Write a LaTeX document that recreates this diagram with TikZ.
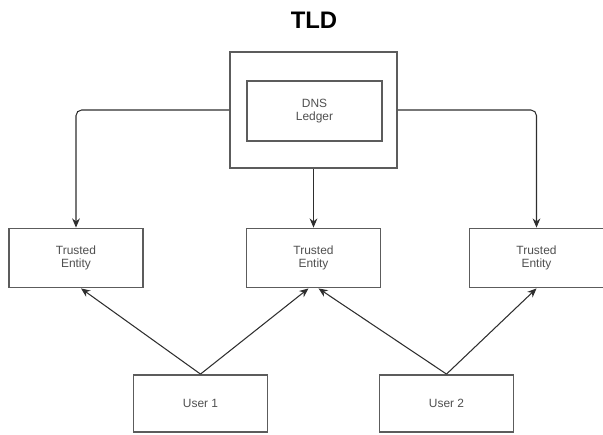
\documentclass[tikz,border=0pt]{standalone}
\usepackage{xcolor}
\usepackage{fontspec}
\setmainfont{Liberation Sans}
\usetikzlibrary{calc,arrows.meta}
\definecolor{framegray}{HTML}{5C5C5C}
\definecolor{wiregray}{HTML}{2E2E2E}
\definecolor{labelgray}{HTML}{505050}

\begin{document}
\begin{tikzpicture}[
    x=0.025cm, y=-0.025cm,
    unit/.style={
      draw=framegray, line width=1.3pt, fill=white,
      align=center, inner sep=2pt,
      font=\fontsize{8.5}{9.6}\selectfont\color{labelgray}
    },
    entity/.style={unit, minimum width=3.35cm, minimum height=1.475cm},
    user/.style={unit, minimum width=3.35cm, minimum height=1.425cm},
    wire/.style={draw=wiregray, line width=0.75pt,
      -{Stealth[length=6.5pt,width=5.5pt]}}
  ]
  \useasboundingbox (0,0) rectangle (603,434);

  % registry on top
  \node (title) at (314,20) {\fontsize{17}{20}\selectfont\bfseries TLD};
  \node[unit, minimum width=4.175cm, minimum height=2.9cm] (tld) at (313.5,110) {};
  \node[unit, minimum width=3.375cm, minimum height=1.5cm] (ledger) at (314.5,111)
    {DNS\\Ledger};

  % trusted entities
  \node[entity] (teleft) at (76,258) {Trusted\\Entity};
  \node[entity] (temid) at (313.5,258) {Trusted\\Entity};
  \node[entity] (teright) at (536.5,258) {Trusted\\Entity};

  % users
  \node[user] (userone) at (200.5,403.5) {User 1};
  \node[user] (usertwo) at (446.5,403.5) {User 2};

  % tld to entities
  \draw[wire, rounded corners=4pt] (tld.west) -| (teleft.north);
  \draw[wire] (tld.south) -- (temid.north);
  \draw[wire, rounded corners=4pt] (tld.east) -| (teright.north);

  % users to entities
  \draw[wire] (userone.north) -- ($(teleft.south)+(5,0)$);
  \draw[wire] (userone.north) -- ($(temid.south)+(-5,0)$);
  \draw[wire] (usertwo.north) -- ($(temid.south)+(5,0)$);
  \draw[wire] (usertwo.north) -- (teright.south);
\end{tikzpicture}
\end{document}
